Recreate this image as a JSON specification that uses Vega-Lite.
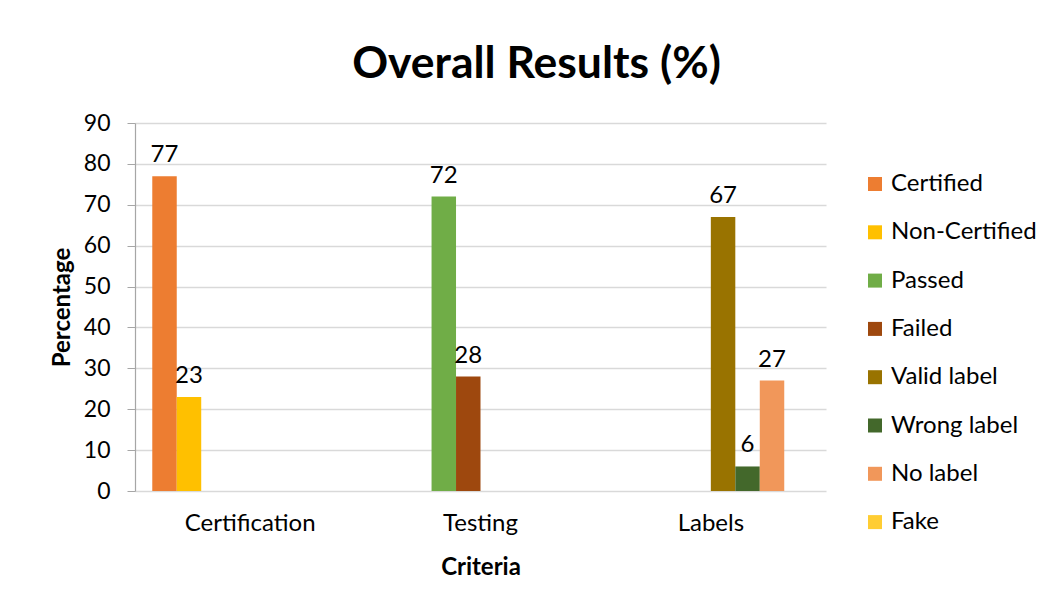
{
  "$schema": "https://vega.github.io/schema/vega-lite/v6.json",
  "width": 691,
  "height": 368,
  "autosize": {"type": "none"},
  "padding": {"left": 135, "top": 123, "right": 228, "bottom": 116},
  "background": "white",
  "config": {
    "font": "Lato",
    "view": {"stroke": null}
  },
  "title": {
    "text": "Overall Results (%)",
    "fontSize": 44.5,
    "fontWeight": "bold",
    "font": "Lato",
    "color": "#000000",
    "anchor": "middle",
    "dx": 56,
    "offset": 25
  },
  "data": {
    "values": [
      {"criteria": "Certification", "result": "Certified", "value": 77},
      {"criteria": "Certification", "result": "Non-Certified", "value": 23},
      {"criteria": "Testing", "result": "Passed", "value": 72},
      {"criteria": "Testing", "result": "Failed", "value": 28},
      {"criteria": "Labels", "result": "Valid label", "value": 67},
      {"criteria": "Labels", "result": "Wrong label", "value": 6},
      {"criteria": "Labels", "result": "No label", "value": 27}
    ]
  },
  "encoding": {
    "x": {
      "field": "criteria",
      "type": "nominal",
      "sort": ["Certification", "Testing", "Labels"],
      "scale": {"paddingInner": 0.15, "paddingOuter": 0.075},
      "axis": {
        "title": "Criteria",
        "titleFontSize": 24,
        "titleFontWeight": "bold",
        "titleColor": "#000000",
        "titleBaseline": "middle",
        "titleY": 76,
        "labelAngle": 0,
        "labelFontSize": 24,
        "labelColor": "#000000",
        "labelPadding": 20,
        "ticks": false,
        "domain": false,
        "grid": false
      }
    },
    "xOffset": {
      "field": "result",
      "type": "nominal",
      "scale": {
        "domain": ["Certified", "Non-Certified", "Passed", "Failed", "Valid label", "Wrong label", "No label", "Fake"],
        "paddingInner": 0,
        "paddingOuter": 0
      }
    },
    "y": {
      "field": "value",
      "type": "quantitative",
      "scale": {"domain": [0, 90]},
      "axis": {
        "title": "Percentage",
        "titleFontSize": 24,
        "titleFontWeight": "bold",
        "titleColor": "#000000",
        "titleX": -73,
        "titleY": 184,
        "titleAngle": -90,
        "titleBaseline": "middle",
        "titleAlign": "center",
        "values": [0, 10, 20, 30, 40, 50, 60, 70, 80, 90],
        "labelFontSize": 23,
        "labelColor": "#000000",
        "labelPadding": 17,
        "tickSize": 8,
        "tickColor": "#A6A6A6",
        "domainColor": "#A6A6A6",
        "domainWidth": 1.2,
        "gridColor": "#D9D9D9",
        "gridWidth": 1.5
      }
    }
  },
  "layer": [
    {
      "mark": {"type": "bar"},
      "encoding": {
        "color": {
          "field": "result",
          "type": "nominal",
          "scale": {
            "domain": ["Certified", "Non-Certified", "Passed", "Failed", "Valid label", "Wrong label", "No label", "Fake"],
            "range": ["#ED7D31", "#FFC000", "#70AD47", "#9E480E", "#997300", "#43682B", "#F1975A", "#FFCD33"]
          },
          "legend": {
            "title": null,
            "orient": "none",
            "legendX": 728,
            "legendY": 49,
            "symbolType": "square",
            "symbolSize": 196,
            "symbolStrokeWidth": 0,
            "labelFontSize": 24,
            "labelColor": "#000000",
            "labelOffset": 4,
            "rowPadding": 24.3,
            "labelLimit": 250
          }
        }
      }
    },
    {
      "mark": {"type": "text", "fontSize": 24, "color": "#000000", "baseline": "alphabetic", "dy": -14},
      "encoding": {
        "text": {"field": "value", "type": "quantitative"}
      }
    }
  ]
}
